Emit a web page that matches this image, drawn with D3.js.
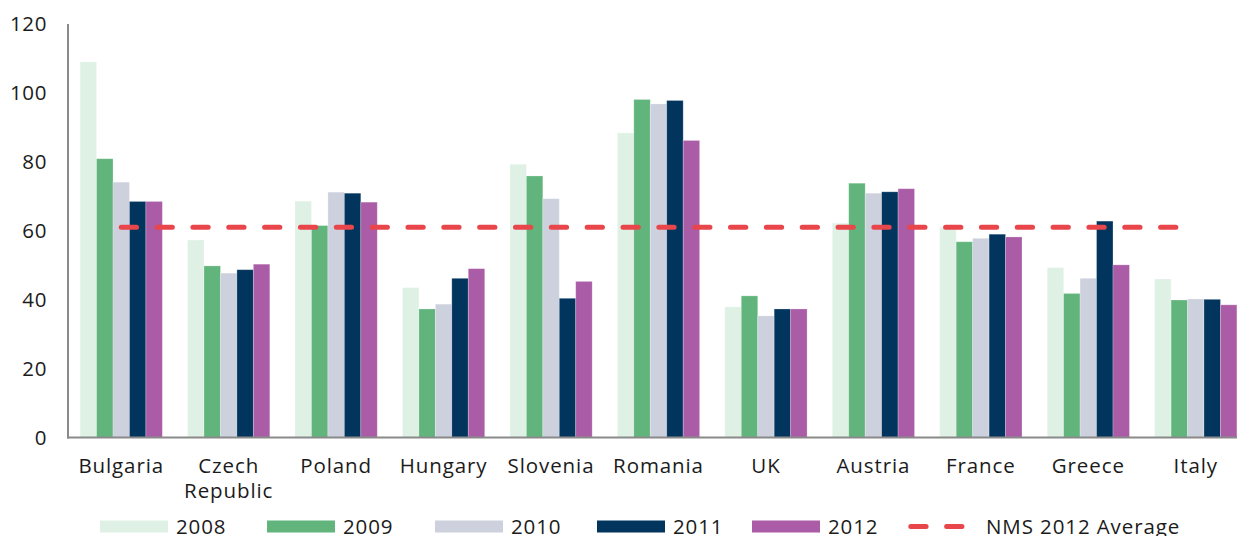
<!DOCTYPE html>
<html>
<head>
<meta charset="utf-8">
<script src="https://cdn.jsdelivr.net/npm/d3@7"></script>
<style>
  html, body { margin: 0; padding: 0; background: #fff; overflow: hidden; }
  svg text { font-family: "Open Sans", "Noto Sans", sans-serif; fill: #1b1b1b; }
</style>
</head>
<body>
<svg id="chart" width="1237" height="536"></svg>
<script>
// Countries along the x axis (labels may wrap onto two lines)
const categories = ["Bulgaria", "Czech Republic", "Poland", "Hungary", "Slovenia",
                    "Romania", "UK", "Austria", "France", "Greece", "Italy"];
const categoryLines = [["Bulgaria"], ["Czech", "Republic"], ["Poland"], ["Hungary"], ["Slovenia"],
                       ["Romania"], ["UK"], ["Austria"], ["France"], ["Greece"], ["Italy"]];

const years = ["2008", "2009", "2010", "2011", "2012"];

// One value per country, in category order
const values2008 = [109.0, 57.3, 68.6, 43.5, 79.3, 88.4, 37.9, 62.2, 60.9, 49.3, 46.0];
const values2009 = [80.9, 49.8, 61.5, 37.3, 75.9, 98.1, 41.1, 73.8, 56.8, 41.8, 39.9];
const values2010 = [74.1, 47.7, 71.2, 38.7, 69.3, 96.8, 35.3, 70.9, 57.8, 46.2, 40.2];
const values2011 = [68.5, 48.7, 70.9, 46.2, 40.4, 97.8, 37.3, 71.3, 59.0, 62.8, 40.1];
const values2012 = [68.5, 50.3, 68.3, 49.0, 45.3, 86.2, 37.3, 72.2, 58.2, 50.1, 38.5];

// Reference level drawn as a dashed line
const nmsAverage2012 = 61.0;
const averageLabel = "NMS 2012 Average";

const yTicks = [0, 20, 40, 60, 80, 100, 120];

const seriesColors = ["#dff1e5", "#61b47b", "#cdd1de", "#02355e", "#ab5ca6"];
const averageColor = "#e8464a";

const seriesValues = [values2008, values2009, values2010, values2011, values2012];

const svg = d3.select("#chart");

const plotLeft = 68, plotTop = 24, plotBottom = 437.5;
const groupRangeRight = 1249.5;

const y = d3.scaleLinear().domain([0, 120]).range([plotBottom, plotTop]);

const x0 = d3.scaleBand().domain(categories).range([plotLeft - 0.5, groupRangeRight]);
const groupPad = 12.6;
const x1 = d3.scaleBand().domain(years).range([groupPad, x0.bandwidth() - groupPad]);

const fontSize = 20.5;
const spacing = "0.6px";
const wideSpacing = "0.9px";

// Bars: one group per country
const rows = categories.map((c, i) => ({
  country: c,
  bars: years.map((yr, j) => ({ year: yr, value: seriesValues[j][i], color: seriesColors[j] }))
}));

const groups = svg.append("g").selectAll("g")
  .data(rows)
  .join("g")
  .attr("transform", d => `translate(${x0(d.country)},0)`);

groups.selectAll("rect")
  .data(d => d.bars)
  .join("rect")
  .attr("x", d => x1(d.year))
  .attr("width", x1.bandwidth())
  .attr("y", d => y(d.value))
  .attr("height", d => y(0) - y(d.value))
  .attr("fill", d => d.color)
  .attr("stroke", "#ffffff")
  .attr("stroke-opacity", 0.3)
  .attr("stroke-width", 0.8);

// Axes lines
const axisColor = "#8a8a8a";
svg.append("line")
  .attr("x1", plotLeft).attr("x2", plotLeft)
  .attr("y1", plotTop).attr("y2", plotBottom + 1)
  .attr("stroke", axisColor).attr("stroke-width", 2);
svg.append("line")
  .attr("x1", plotLeft - 1).attr("x2", 1237)
  .attr("y1", plotBottom).attr("y2", plotBottom)
  .attr("stroke", axisColor).attr("stroke-width", 2);

// Y tick labels
svg.append("g").selectAll("text")
  .data(yTicks)
  .join("text")
  .attr("x", 47)
  .attr("y", d => y(d))
  .attr("dy", "0.36em")
  .attr("text-anchor", "end")
  .style("font-size", fontSize + "px")
  .style("letter-spacing", spacing)
  .text(d => d);

// Category labels
const catLabels = svg.append("g").selectAll("text")
  .data(categories)
  .join("text")
  .attr("text-anchor", "middle")
  .attr("x", d => x0(d) + x0.bandwidth() / 2)
  .attr("y", 473.3)
  .style("font-size", fontSize + "px")
  .style("letter-spacing", wideSpacing);
catLabels.each(function(d, i) {
  const t = d3.select(this);
  categoryLines[i].forEach((line, k) => {
    t.append("tspan")
      .attr("x", x0(d) + x0.bandwidth() / 2)
      .attr("dy", k === 0 ? 0 : 25)
      .text(line);
  });
});

// Dashed average line from the first to the last country centre
const dashPattern = "15.3,20.54";
svg.append("line")
  .attr("x1", x0(categories[0]) + x0.bandwidth() / 2)
  .attr("x2", x0(categories[categories.length - 1]) + x0.bandwidth() / 2)
  .attr("y1", y(nmsAverage2012))
  .attr("y2", y(nmsAverage2012))
  .attr("stroke", averageColor)
  .attr("stroke-width", 5)
  .attr("stroke-linecap", "round")
  .attr("stroke-dasharray", dashPattern);

// Legend
const legendY = 526.5;
const legendSlots = [100, 267, 435, 597, 752];
const legend = svg.append("g");
years.forEach((yr, j) => {
  const sx = legendSlots[j];
  legend.append("rect")
    .attr("x", sx).attr("y", legendY - 6)
    .attr("width", 68).attr("height", 12)
    .attr("fill", seriesColors[j]);
  legend.append("text")
    .attr("x", sx + 76).attr("y", legendY)
    .attr("dy", "0.36em")
    .style("font-size", fontSize + "px")
    .style("letter-spacing", wideSpacing)
    .text(yr);
});
legend.append("line")
  .attr("x1", 910.8).attr("x2", 962)
  .attr("y1", legendY).attr("y2", legendY)
  .attr("stroke", averageColor)
  .attr("stroke-width", 5)
  .attr("stroke-linecap", "round")
  .attr("stroke-dasharray", dashPattern);
legend.append("text")
  .attr("x", 986).attr("y", legendY)
  .attr("dy", "0.36em")
  .style("font-size", fontSize + "px")
  .style("letter-spacing", wideSpacing)
  .text(averageLabel);
</script>
</body>
</html>
